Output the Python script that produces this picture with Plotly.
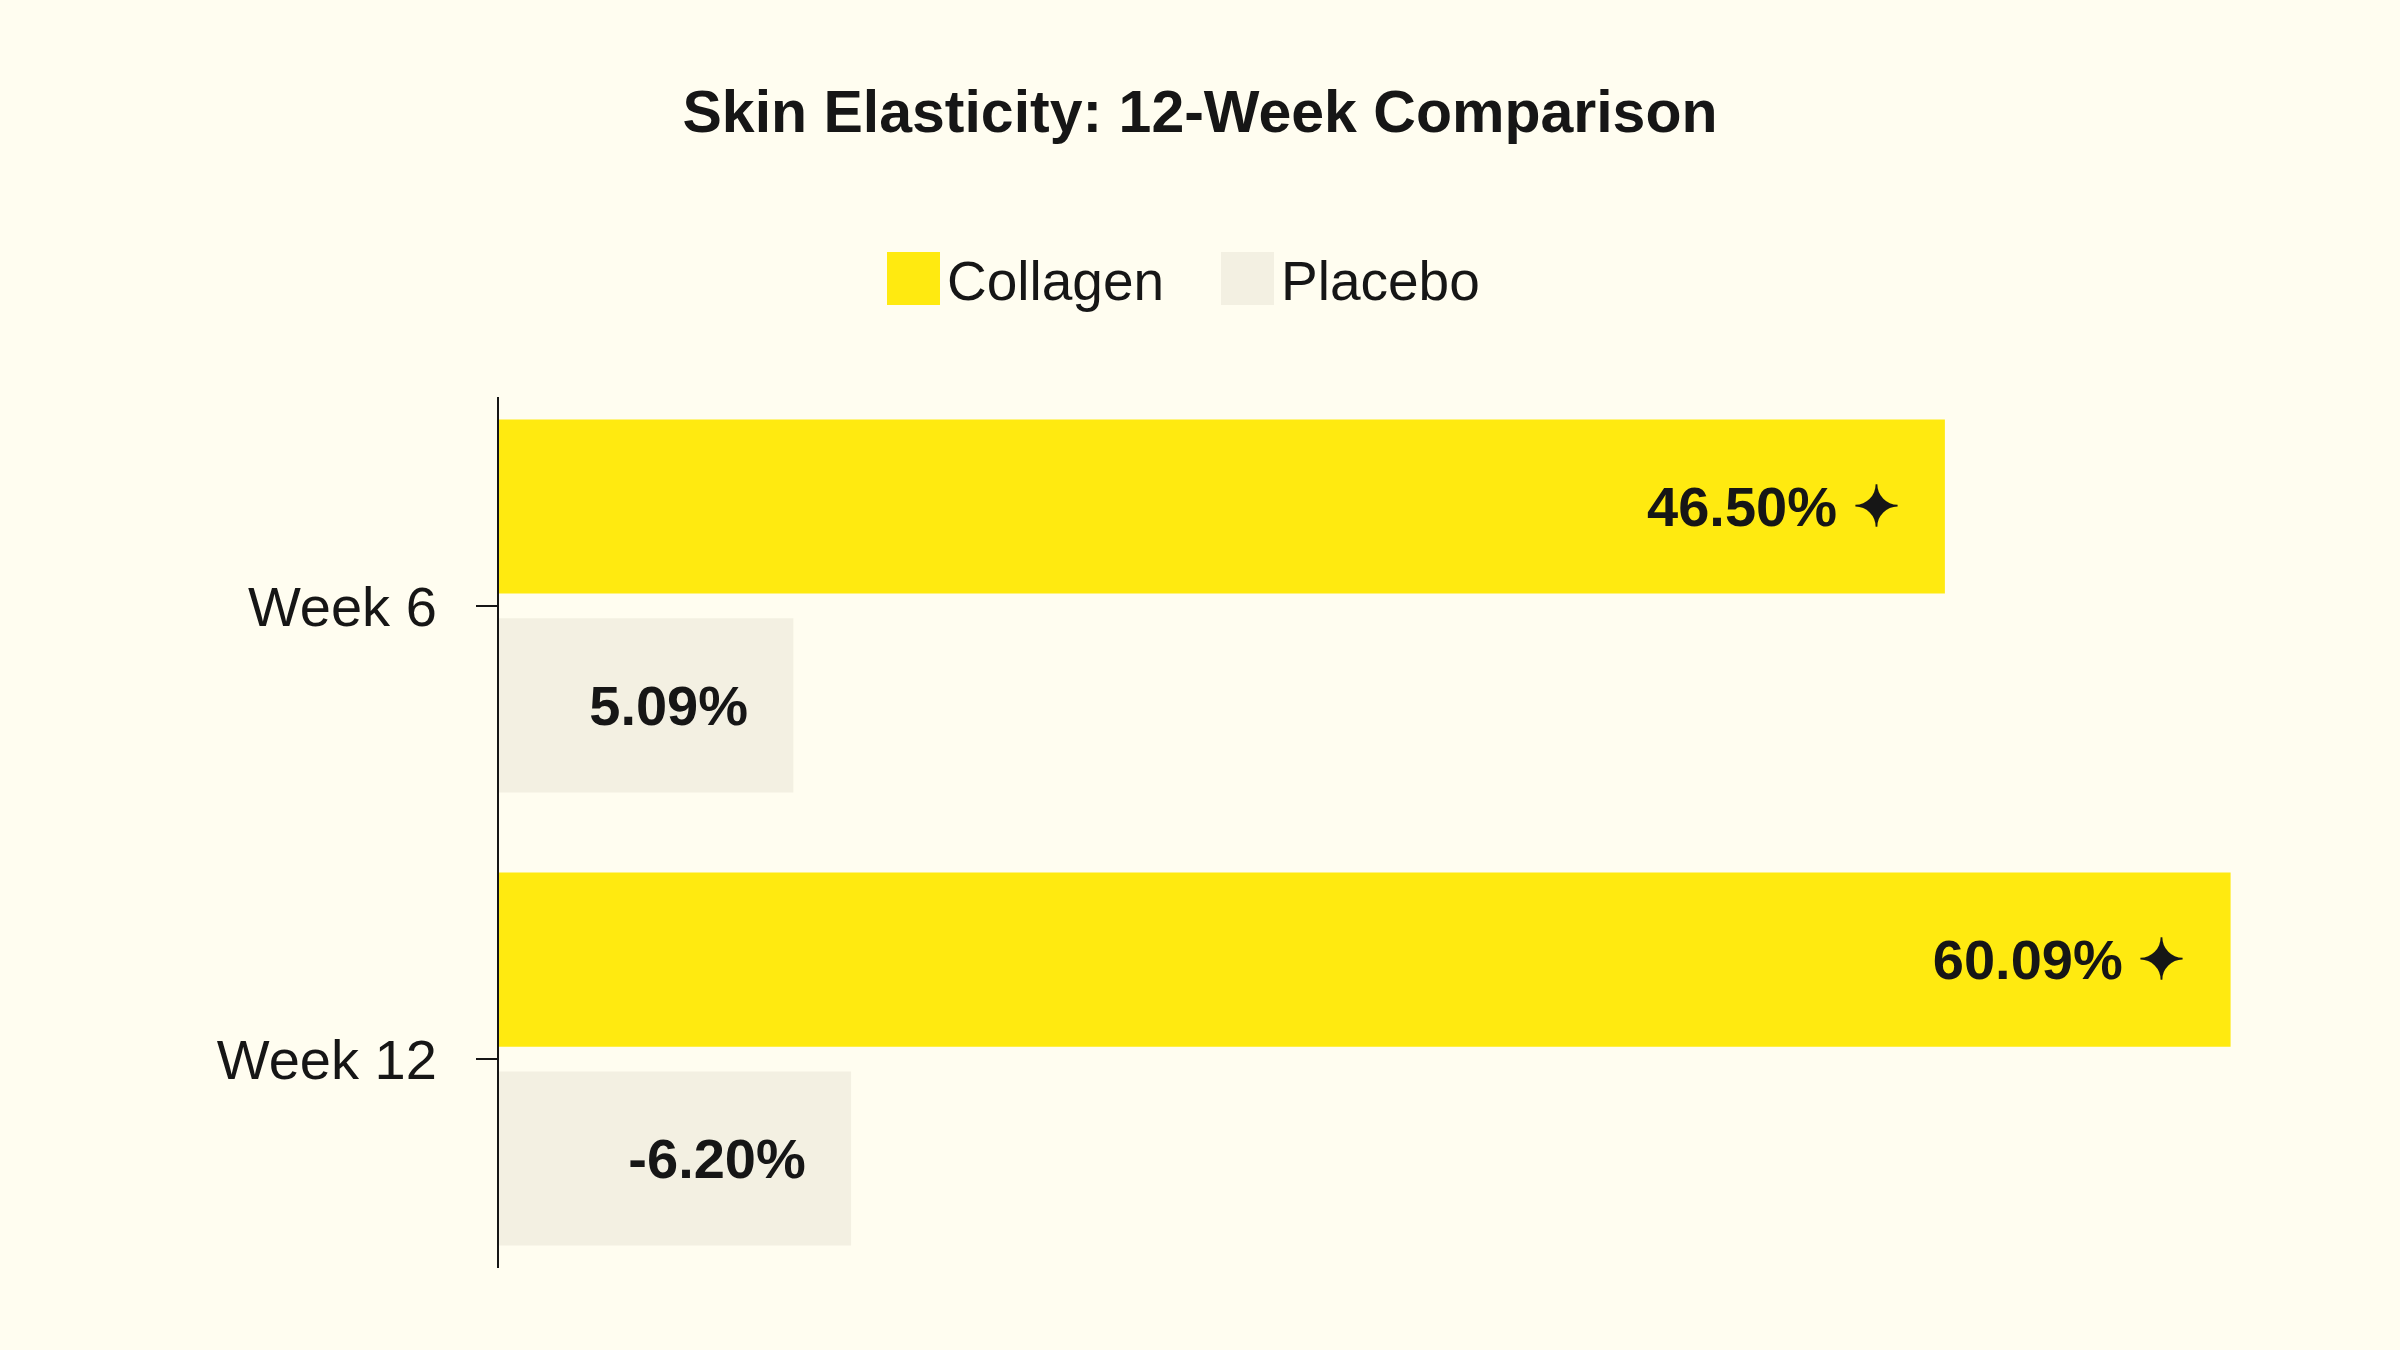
import plotly.graph_objects as go

# ---- data ----
categories = ["Week 6", "Week 12"]
series_names = ["Collagen", "Placebo"]
collagen_labels = ["46.50%", "60.09%"]
placebo_labels = ["5.09%", "-6.20%"]
# bar lengths as drawn in the picture (hidden x-axis units)
collagen_bar = [50.1, 60.0]
placebo_bar = [10.2, 12.2]

BG = "#FFFDF0"
YELLOW = "#FFEA10"
BEIGE = "#F3F0E2"
INK = "#161616"
FONT = "Liberation Sans, Arial, sans-serif"

W, H = 2400, 1350
ML, MR, MT, MB = 499, 100, 397, 82
PW, PH = W - ML - MR, H - MT - MB


def px(x):
    return (x - ML) / PW


def py(y):
    return (H - MB - y) / PH


pad = "\u00a0\u00a0\u2009"

fig = go.Figure()
fig.add_trace(go.Bar(
    y=categories, x=collagen_bar, orientation="h", name=series_names[0],
    marker=dict(color=YELLOW, line=dict(width=0)),
    text=[f"{t} \u2726{pad}" for t in collagen_labels],
    textposition="inside", insidetextanchor="end", textangle=0,
    constraintext="none",
    textfont=dict(family=FONT, size=56, color=INK, weight="bold"),
    showlegend=False,
))
fig.add_trace(go.Bar(
    y=categories, x=placebo_bar, orientation="h", name=series_names[1],
    marker=dict(color=BEIGE, line=dict(width=0)),
    text=[f"{t}{pad}" for t in placebo_labels],
    textposition="inside", insidetextanchor="end", textangle=0,
    constraintext="none",
    textfont=dict(family=FONT, size=56, color=INK, weight="bold"),
    showlegend=False,
))

# manual legend (large swatches)
legend_items = [(series_names[0], YELLOW, 887), (series_names[1], BEIGE, 1221)]
shapes = []
annotations = []
for name, color, x0 in legend_items:
    shapes.append(dict(type="rect", xref="paper", yref="paper",
                       x0=px(x0), x1=px(x0 + 53), y0=py(305), y1=py(252),
                       fillcolor=color, line=dict(width=0), layer="above"))
    annotations.append(dict(text=name, xref="paper", yref="paper",
                            x=px(x0 + 58), y=py(281), xanchor="left", yanchor="middle",
                            showarrow=False,
                            font=dict(family=FONT, size=55, color=INK)))

fig.update_layout(
    width=W, height=H,
    paper_bgcolor=BG, plot_bgcolor=BG,
    margin=dict(l=ML, r=MR, t=MT, b=MB),
    barmode="group", bargap=0.122, bargroupgap=0.125,
    title=dict(text="<b>Skin Elasticity: 12-Week Comparison</b>",
               x=0.5, xanchor="center", xref="container",
               y=1 - 111 / H, yanchor="middle", yref="container",
               font=dict(family=FONT, size=59, color=INK)),
    xaxis=dict(range=[0, PW / 28.86], visible=False, fixedrange=True),
    yaxis=dict(type="category", categoryorder="array", categoryarray=categories,
               range=[1.461, -0.461], showline=True, linecolor=INK, linewidth=2,
               ticks="outside", ticklen=21, tickwidth=2, tickcolor=INK,
               ticklabelstandoff=28, showgrid=False, zeroline=False,
               tickfont=dict(family=FONT, size=56, color=INK)),
    shapes=shapes, annotations=annotations,
    showlegend=False,
)

fig.write_html("out.html")
